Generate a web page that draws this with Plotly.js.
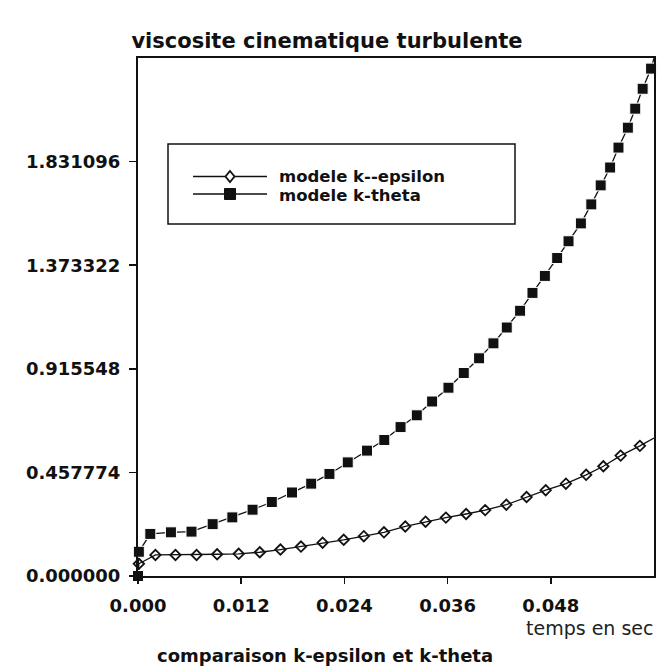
<!DOCTYPE html>
<html><head><meta charset="utf-8">
<script src="https://cdn.plot.ly/plotly-3.0.1.min.js"></script>
<style>html,body{margin:0;padding:0;background:#fff;} #chart{width:657px;height:666px;}</style>
</head><body><div id="chart"></div>
<script>
// ---- data ----
const titleText = 'viscosite cinematique turbulente';
const xAxisLabel = 'temps en sec';
const captionText = 'comparaison k-epsilon et k-theta';
const seriesNames = ['modele k--epsilon', 'modele k-theta'];
const xMax = 0.06;
const yMax = 2.28887;
const xTickVals = [0, 0.012, 0.024, 0.036, 0.048];
const xTickText = ['0.000', '0.012', '0.024', '0.036', '0.048'];
const yTickVals = [0, 0.457774, 0.915548, 1.373322, 1.831096];
const yTickText = ['0.000000', '0.457774', '0.915548', '1.373322', '1.831096'];

const epsT = [0, 0.0001, 0.00203, 0.00436, 0.00681, 0.0092, 0.01171, 0.01416, 0.01656, 0.01895,
  0.02147, 0.02392, 0.02626, 0.0286, 0.03108, 0.03344, 0.0358, 0.03815, 0.04037, 0.04283,
  0.04518, 0.04741, 0.04976, 0.05211, 0.05411, 0.05612, 0.05836, 0.06];
const epsV = [0, 0.054, 0.093, 0.093, 0.093, 0.096, 0.098, 0.105, 0.117, 0.130,
  0.147, 0.160, 0.176, 0.193, 0.219, 0.240, 0.258, 0.274, 0.291, 0.315,
  0.349, 0.379, 0.408, 0.447, 0.485, 0.532, 0.575, 0.610];

const thetaT = [0, 0.0001, 0.00143, 0.00383, 0.00622, 0.00868, 0.01097, 0.01332, 0.01556, 0.01791,
  0.02014, 0.02226, 0.02439, 0.02663, 0.02864, 0.03053, 0.03242, 0.0342, 0.0361, 0.03788,
  0.03966, 0.04133, 0.04288, 0.04443, 0.04587, 0.04731, 0.04874, 0.05006, 0.0515, 0.05271,
  0.0538, 0.0549, 0.05587, 0.05696, 0.05782, 0.05868, 0.05966, 0.06];
const thetaV = [0, 0.107, 0.186, 0.193, 0.196, 0.229, 0.259, 0.293, 0.327, 0.369,
  0.408, 0.451, 0.502, 0.554, 0.601, 0.658, 0.710, 0.771, 0.832, 0.897,
  0.962, 1.028, 1.098, 1.172, 1.251, 1.326, 1.405, 1.479, 1.558, 1.642,
  1.726, 1.805, 1.893, 1.981, 2.065, 2.153, 2.242, 2.2889];

// ---- geometry / style ----
const W = 657, H = 666;
const L = 138, R = 654, T = 58, B = 576;
const xp = X => (X - L) / (R - L);
const yp = Y => (B - Y) / (B - T);
const FONT = 'DejaVu Sans, Liberation Sans, sans-serif';
const ink = '#111';

// last point of each series is the curve end: line only, no symbol
const sizes = (arr, s) => arr.map((_, i) => i === arr.length - 1 ? 0 : s);

const traces = [
  {
    x: epsT, y: epsV, name: seriesNames[0], type: 'scatter', mode: 'lines+markers',
    line: {color: ink, width: 1.3},
    marker: {symbol: 'diamond-open', size: sizes(epsT, 8), opacity: 1, color: ink, line: {width: 1.8, color: ink}},
    cliponaxis: false, showlegend: false
  },
  {
    x: thetaT, y: thetaV, name: seriesNames[1], type: 'scatter', mode: 'lines+markers',
    line: {color: ink, width: 1.3},
    marker: {symbol: 'square', size: sizes(thetaT, 11), opacity: 1, color: ink},
    cliponaxis: false, showlegend: false
  }
];

const axBase = {showgrid: false, zeroline: false};
const layout = {
  width: W, height: H,
  margin: {l: L, r: W - R, t: T, b: H - B, pad: 0},
  paper_bgcolor: '#fff', plot_bgcolor: '#fff',
  showlegend: false,
  title: {
    text: titleText, x: 327 / W, xref: 'container', xanchor: 'center',
    y: 1 - 41 / H, yref: 'container', yanchor: 'middle',
    font: {family: FONT, size: 21, color: ink, weight: 'bold'}
  },
  xaxis: Object.assign({}, axBase, {
    range: [0, xMax], tickmode: 'array', tickvals: xTickVals, ticktext: xTickText,
    ticks: 'outside', ticklen: 6, tickwidth: 1.5, tickcolor: ink,
    showline: true, linewidth: 2, linecolor: ink, mirror: true,
    ticklabelstandoff: 6,
    tickfont: {family: FONT, size: 18, color: ink, weight: 'bold'}
  }),
  xaxis2: Object.assign({}, axBase, {
    range: [0, xMax], overlaying: 'x', anchor: 'y', side: 'bottom',
    tickmode: 'array', tickvals: xTickVals, showticklabels: false,
    ticks: 'inside', ticklen: 7, tickwidth: 1.5, tickcolor: ink, showline: false
  }),
  yaxis: Object.assign({}, axBase, {
    range: [0, yMax], tickmode: 'array', tickvals: yTickVals, ticktext: yTickText,
    ticks: 'outside', ticklen: 7, tickwidth: 1.5, tickcolor: ink,
    showline: true, linewidth: 2, linecolor: ink, mirror: true,
    ticklabelstandoff: 5,
    tickfont: {family: FONT, size: 18, color: ink, weight: 'bold'}
  }),
  yaxis2: Object.assign({}, axBase, {
    range: [0, yMax], overlaying: 'y', anchor: 'x', side: 'left',
    tickmode: 'array', tickvals: yTickVals, showticklabels: false,
    ticks: 'inside', ticklen: 7, tickwidth: 1.5, tickcolor: ink, showline: false
  }),
  shapes: [
    // legend box
    {type: 'rect', xref: 'paper', yref: 'paper', x0: xp(168), x1: xp(515), y0: yp(224), y1: yp(144),
     line: {color: ink, width: 1.5}, fillcolor: 'rgba(0,0,0,0)'},
    // legend sample lines
    {type: 'line', xref: 'paper', yref: 'paper', x0: xp(193), x1: xp(267), y0: yp(176.5), y1: yp(176.5),
     line: {color: ink, width: 1.4}},
    {type: 'line', xref: 'paper', yref: 'paper', x0: xp(193), x1: xp(267), y0: yp(194), y1: yp(194),
     line: {color: ink, width: 1.4}},
    // legend symbols
    {type: 'path', xref: 'paper', yref: 'paper',
     path: `M ${xp(230)},${yp(171)} L ${xp(234.5)},${yp(176.5)} L ${xp(230)},${yp(182)} L ${xp(225.5)},${yp(176.5)} Z`,
     line: {color: ink, width: 1.8}, fillcolor: '#fff'},
    {type: 'rect', xref: 'paper', yref: 'paper', x0: xp(224.5), x1: xp(235.5), y0: yp(199.5), y1: yp(188.5),
     line: {color: ink, width: 1}, fillcolor: ink}
  ],
  annotations: [
    {text: seriesNames[0], xref: 'paper', yref: 'paper', x: xp(277), y: yp(176), xanchor: 'left', yanchor: 'middle',
     showarrow: false, font: {family: FONT, size: 16.5, color: ink, weight: 'bold'}},
    {text: seriesNames[1], xref: 'paper', yref: 'paper', x: xp(277), y: yp(195.5), xanchor: 'left', yanchor: 'middle',
     showarrow: false, font: {family: FONT, size: 16.5, color: ink, weight: 'bold'}},
    {text: xAxisLabel, xref: 'paper', yref: 'paper', x: xp(655), y: yp(628), xanchor: 'right', yanchor: 'middle',
     showarrow: false, font: {family: FONT, size: 19, color: '#222'}},
    {text: captionText, xref: 'paper', yref: 'paper', x: xp(325), y: yp(655), xanchor: 'center', yanchor: 'middle',
     showarrow: false, font: {family: FONT, size: 18, color: ink, weight: 'bold'}}
  ]
};

Plotly.newPlot('chart', traces, layout, {staticPlot: true, displayModeBar: false});
</script>
</body></html>
